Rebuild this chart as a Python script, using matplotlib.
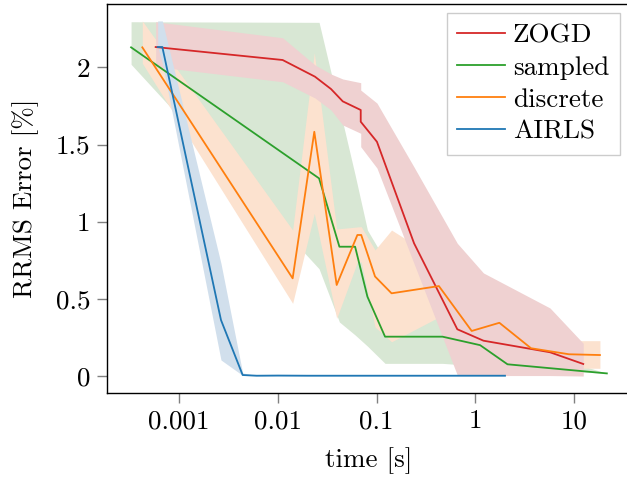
import numpy as np
import matplotlib
matplotlib.use("Agg")
import matplotlib.pyplot as plt

plt.rcParams["font.family"] = "cmr10"
plt.rcParams["axes.formatter.use_mathtext"] = True
plt.rcParams["font.size"] = 19.5

# ZOGD
zogd_t = [5.8e-4, 0.0112, 0.0238, 0.0346, 0.0455, 0.0692, 0.0692, 0.101, 0.240, 0.658, 1.21, 5.71, 12.4]
zogd_err = [2.132, 2.048, 1.940, 1.860, 1.780, 1.724, 1.648, 1.518, 0.860, 0.303, 0.229, 0.154, 0.078]
zogd_hi = [2.296, 2.192, 2.016, 1.957, 1.925, 1.901, 1.853, 1.769, 1.354, 0.860, 0.668, 0.441, 0.212]
zogd_lo = [2.005, 1.907, 1.802, 1.724, 1.627, 1.573, 1.486, 1.348, 0.728, 0.006, 0.003, 0.003, 0.0]

# sampled
samp_t = [3.27e-4, 0.0262, 0.0421, 0.0607, 0.0809, 0.122, 0.466, 1.12, 2.12, 21.5]
samp_err = [2.130, 1.281, 0.838, 0.838, 0.514, 0.255, 0.255, 0.200, 0.076, 0.017]
samp_hi = [2.296, 2.292, 1.737, 1.303, 0.946, 0.752, 0.557, 0.428, 0.220, 0.017]
samp_lo = [2.020, 0.695, 0.350, 0.266, 0.194, 0.082, 0.082, 0.065, 0.054, 0.017]

# discrete
disc_t = [4.25e-4, 0.01415, 0.02344, 0.0395, 0.0640, 0.0700, 0.0966, 0.142, 0.428, 0.920, 1.754, 3.67, 8.89, 18.3]
disc_err = [2.130, 0.633, 1.583, 0.590, 0.914, 0.914, 0.645, 0.536, 0.583, 0.292, 0.345, 0.180, 0.141, 0.136]
disc_hi = [2.301, 0.946, 2.095, 0.953, 0.966, 0.968, 0.817, 0.946, 0.752, 0.493, 0.505, 0.298, 0.229, 0.229]
disc_lo = [2.027, 0.471, 1.054, 0.374, 0.739, 0.739, 0.318, 0.222, 0.382, 0.136, 0.201, 0.071, 0.052, 0.050]

# AIRLS
airls_t = [6.08e-4, 6.78e-4, 2.66e-3, 4.41e-3, 6.12e-3, 0.01, 0.02, 0.05, 0.1, 0.2, 0.5, 1.0, 2.0]
airls_err = [2.132, 2.132, 0.363, 0.0065, 0.002, 0.003, 0.002, 0.002, 0.002, 0.002, 0.002, 0.002, 0.002]
airls_hi = [2.301, 2.301, 0.730, 0.02, 0.003, 0.004, 0.003, 0.003, 0.003, 0.003, 0.003, 0.003, 0.003]
airls_lo = [2.132, 2.029, 0.104, 0.004, 0.001, 0.001, 0.001, 0.001, 0.001, 0.001, 0.001, 0.001, 0.001]

xticks = [0.001, 0.01, 0.1, 1, 10]
xticklabels = ["0.001", "0.01", "0.1", "1", "10"]
yticks = [0, 0.5, 1, 1.5, 2]
yticklabels = ["0", "0.5", "1", "1.5", "2"]

# (label, t, err, lo, hi, line colour, band colour, band zorder)
series = [
    ("ZOGD", zogd_t, zogd_err, zogd_lo, zogd_hi, "#d62728", "#efd1d1", 3),
    ("sampled", samp_t, samp_err, samp_lo, samp_hi, "#2ca02c", "#d8e7d4", 1),
    ("discrete", disc_t, disc_err, disc_lo, disc_hi, "#ff7f0e", "#fce2cf", 2),
    ("AIRLS", airls_t, airls_err, airls_lo, airls_hi, "#1f77b4", "#d1dfec", 4),
]

fig = plt.figure(figsize=(6.27, 4.8), dpi=100)
ax = fig.add_axes([0.1707, 0.1819, 0.8341, 0.8098])

for label, t, err, lo, hi, c, fc, z in series:
    ax.fill_between(t, lo, hi, color=fc, linewidth=0, zorder=z)
    ax.plot(t, err, color=c, linewidth=1.3, label=label, zorder=10)

ax.set_xscale("log")
ax.set_xlim(10 ** -3.729, 10 ** 1.567)
ax.set_ylim(-0.108, 2.411)
ax.set_xticks(xticks)
ax.set_xticklabels(xticklabels)
ax.xaxis.set_minor_locator(matplotlib.ticker.NullLocator())
ax.set_yticks(yticks)
ax.set_yticklabels(yticklabels)
ax.tick_params(direction="out", length=7, width=1, color="0.5", pad=5)

for sp in ax.spines.values():
    sp.set_linewidth(1.0)
    sp.set_color("black")

ax.set_xlabel("time [s]", labelpad=10)
ax.set_ylabel("RRMS Error [%]", labelpad=12)

leg = ax.legend(loc="upper right", bbox_to_anchor=(0.981, 0.9776), borderaxespad=0,
                fancybox=False, edgecolor="0.8", framealpha=1,
                handlelength=1.75, handletextpad=0.3, labelspacing=0.3)
leg.get_frame().set_linewidth(1.0)

fig.savefig("out.png", dpi=100)
